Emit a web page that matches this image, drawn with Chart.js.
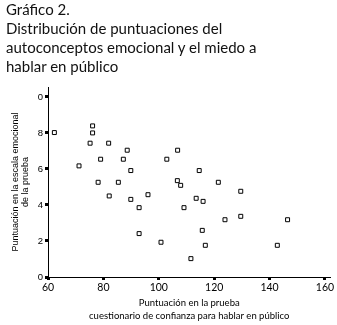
<!DOCTYPE html>
<html>
<head>
<meta charset="utf-8">
<script src="https://cdn.jsdelivr.net/npm/chart.js@4.4.0/dist/chart.umd.min.js"></script>
<style>
  html, body { margin: 0; padding: 0; background: #fff; }
  #wrap { position: relative; width: 337px; height: 325px; overflow: hidden; }
  #title { position: absolute; left: 6px; top: 0; font-family: Lato, sans-serif; font-size: 15px; line-height: 19px; color: #111; white-space: nowrap; }
  canvas { position: absolute; left: 0; top: 0; }
</style>
</head>
<body>
<div id="wrap">
  <canvas id="scatter" width="337" height="325"></canvas>
  <div id="title">Gráfico 2.<br>Distribución de puntuaciones del<br>autoconceptos emocional y el miedo a<br>hablar en público</div>
</div>
<script>
document.addEventListener('DOMContentLoaded', () => {
    // puntuación en el cuestionario de confianza (x) y en la escala emocional (y)
    const confianza = [62.3, 71.2, 75.2, 76.1, 76.1, 78.1, 79.0, 81.9, 82.1, 85.4, 87.2, 88.6, 89.9, 89.9, 92.9, 92.9, 96.1, 100.8,
        102.9, 106.7, 106.8, 107.9, 109.1, 111.6, 113.5, 114.6, 115.7, 116.0, 116.8, 121.5, 123.9, 129.6, 129.6, 142.8, 146.5];
    const emocional = [8.02, 6.17, 7.43, 8.39, 8.0, 5.26, 6.54, 7.43, 4.5, 5.26, 6.54, 7.04, 5.91, 4.31, 3.85, 2.41, 4.57, 1.93,
        6.54, 5.35, 7.04, 5.09, 3.85, 1.02, 4.37, 5.91, 2.59, 4.2, 1.76, 5.26, 3.18, 4.76, 3.37, 1.76, 3.18];

    const xTicks = [60, 80, 100, 120, 140, 160];
    const yTicks = [0, 2, 4, 6, 8, 10];
    const yTickLabels = ['0', '2', '4', '6', '8', '0'];

    const xTitle = ['Puntuación en la prueba', 'cuestionario de confianza para hablar en público'];
    const yTitle = ['Puntuación en la escala emocional', 'de la prueba'];

    const points = confianza.map((x, i) => ({ x: x, y: emocional[i] }));

    const ctx = document.getElementById('scatter').getContext('2d');
    new Chart(ctx, {
        type: 'scatter',
        data: {
            datasets: [
                {
                    data: points,
                    pointStyle: 'rect',
                    pointRadius: 2.8,
                    borderWidth: 1,
                    borderColor: '#000',
                    backgroundColor: '#fff',
                },
            ],
        },
        options: {
            responsive: false,
            animation: false,
            devicePixelRatio: 1,
            layout: { padding: { top: 87, right: 6.5, left: 0, bottom: 0 } },
            plugins: {
                legend: { display: false },
                tooltip: { enabled: false },
            },
            scales: {
                x: {
                    type: 'linear',
                    min: 60,
                    max: 162,
                    afterBuildTicks: (axis) => { axis.ticks = xTicks.map(v => ({ value: v })); },
                    afterFit: (axis) => { axis.height = 48; axis.paddingLeft = 0; axis.paddingRight = 0; },
                    border: { display: true, color: '#000', width: 1 },
                    grid: { drawOnChartArea: false, drawTicks: true, tickLength: 3, tickWidth: 3, tickColor: '#000' },
                    ticks: { color: '#000', padding: 1, maxRotation: 0, font: { family: 'Lato', size: 10.5 } },
                    title: {
                        display: true,
                        text: xTitle,
                        color: '#000',
                        font: { family: 'Lato', size: 9.5, lineHeight: 1.35 },
                        padding: { top: 0, bottom: 2.5 },
                    },
                },
                y: {
                    type: 'linear',
                    min: 0,
                    max: 10.55,
                    afterBuildTicks: (axis) => { axis.ticks = yTicks.map(v => ({ value: v })); },
                    afterFit: (axis) => { axis.width = 48; },
                    border: { display: true, color: '#000', width: 1 },
                    grid: { drawOnChartArea: false, drawTicks: true, tickLength: 3, tickWidth: 3, tickColor: '#000' },
                    ticks: {
                        color: '#000',
                        padding: 2,
                        font: { family: 'Liberation Sans', size: 9.5 },
                        callback: (value, index) => yTickLabels[index],
                    },
                    title: {
                        display: true,
                        text: yTitle,
                        color: '#000',
                        font: { family: 'Liberation Sans', size: 9, lineHeight: 1.1 },
                        padding: { top: 10.5, bottom: 0 },
                    },
                },
            },
        },
    });
});
</script>
</body>
</html>
